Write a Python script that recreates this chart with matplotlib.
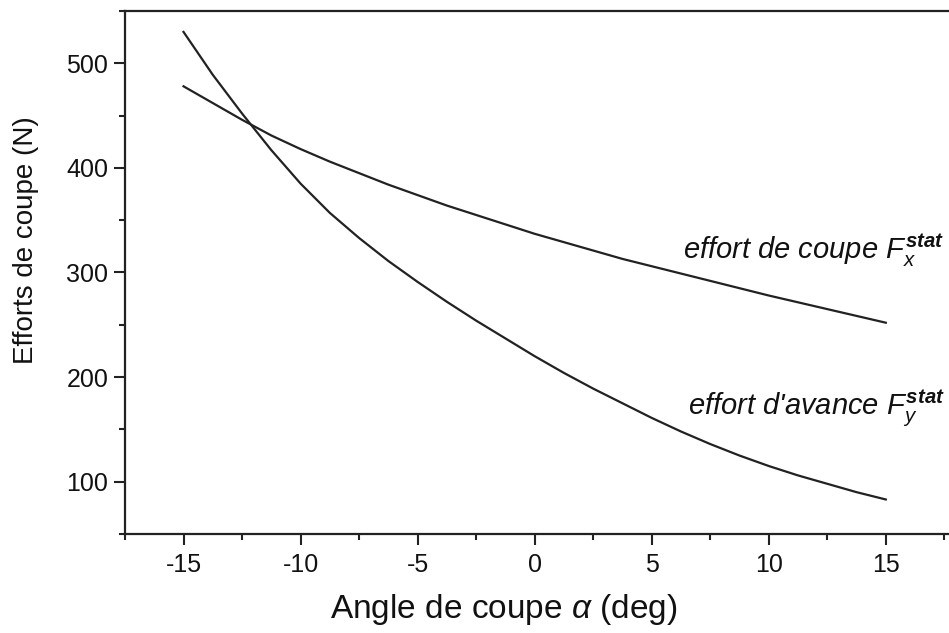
import matplotlib
matplotlib.use("Agg")
import matplotlib.pyplot as plt
from matplotlib.ticker import MultipleLocator

plt.rcParams["font.family"] = ["Liberation Sans", "DejaVu Sans"]
plt.rcParams["axes.unicode_minus"] = False
plt.rcParams["mathtext.fontset"] = "custom"
plt.rcParams["mathtext.rm"] = "Liberation Sans"
plt.rcParams["mathtext.it"] = "Liberation Sans:italic"
plt.rcParams["mathtext.bf"] = "Liberation Sans:bold:italic"

# cutting angle (deg)
angle = [-15, -13.75, -12.5, -11.25, -10, -8.75, -7.5, -6.25, -5, -3.75,
         -2.5, -1.25, 0, 1.25, 2.5, 3.75, 5, 6.25, 7.5, 8.75,
         10, 11.25, 12.5, 13.75, 15]
# static cutting force Fx (N)
fx_stat = [478, 462, 446, 431, 418, 406, 395, 384, 374, 364,
           355, 346, 337, 329, 321, 313, 306, 299, 292, 285,
           278, 271.5, 265, 258.5, 252]
# static feed force Fy (N)
fy_stat = [530, 489, 452, 417, 385, 357, 333, 311, 291, 272,
           254, 237, 220, 204, 189, 175, 161, 148, 136, 125,
           115, 106, 98, 90, 83]

x_ticks = [-15, -10, -5, 0, 5, 10, 15]
y_ticks = [100, 200, 300, 400, 500]

fig = plt.figure(figsize=(9.49, 6.33), dpi=100)
ax = fig.add_axes([125 / 949, 99 / 633, 824 / 949, 523 / 633])

ink = "#222222"
ax.plot(angle, fx_stat, color=ink, lw=1.6)
ax.plot(angle, fy_stat, color=ink, lw=1.6)

ax.set_xlim(-17.5, 17.7)
ax.set_ylim(50, 550)
ax.set_xticks(x_ticks)
ax.set_yticks(y_ticks)
ax.xaxis.set_minor_locator(MultipleLocator(2.5))
ax.yaxis.set_minor_locator(MultipleLocator(50))

ax.spines["right"].set_visible(False)
for s in ["left", "bottom", "top"]:
    ax.spines[s].set_linewidth(1.6)
    ax.spines[s].set_color(ink)

ax.tick_params(which="major", length=8, width=1.5, color=ink, labelsize=18,
               labelcolor="#111111")
ax.tick_params(axis="x", which="major", pad=6)
ax.tick_params(axis="y", which="major", pad=4)
ax.tick_params(which="minor", length=4, width=1.5, color=ink)

ax.set_xlabel(r"Angle de coupe $\mathit{\alpha}$ (deg)", fontsize=24, color="#111111")
ax.set_ylabel("Efforts de coupe (N)", fontsize=20, color="#111111")
ax.xaxis.set_label_coords((504 - 125) / 824, -0.11)
ax.yaxis.set_label_coords(-0.104, 0.562)

ax.text(6.35, 313, r"effort de coupe $\mathit{F}_{\mathit{x}}^{\mathbf{stat}}$",
        fontsize=21, style="italic", color="#111111", va="baseline")
ax.text(6.56, 165, r"effort d'avance $\mathit{F}_{\mathit{y}}^{\mathbf{stat}}$",
        fontsize=21, style="italic", color="#111111", va="baseline")

fig.savefig("out.png", dpi=100)
